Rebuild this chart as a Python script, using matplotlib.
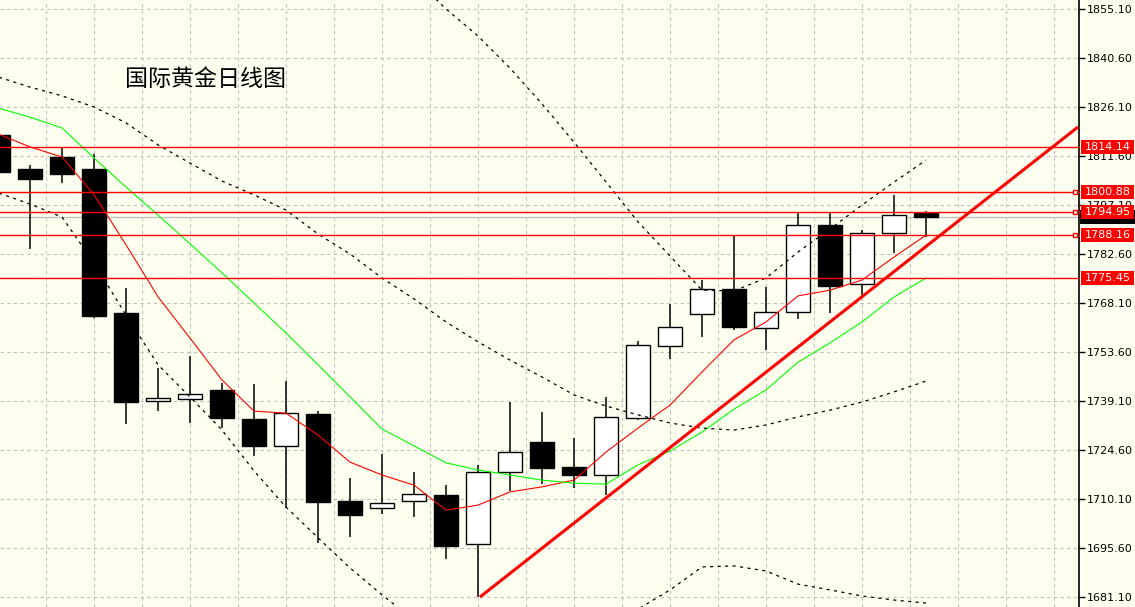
import matplotlib.pyplot as plt
from matplotlib.patches import Rectangle

plt.rcParams['font.family'] = ['Noto Sans CJK SC', 'DejaVu Sans']

# daily candles (oldest first)
opens = [1817.8, 1807.8, 1811.4, 1807.8, 1765.2, 1739.2, 1739.8, 1742.4, 1733.7, 1725.7,
         1735.3, 1709.5, 1707.3, 1709.4, 1711.3, 1696.7, 1718.0, 1727.0, 1719.6, 1717.1,
         1734.1, 1755.5, 1764.8, 1772.2, 1760.6, 1765.3, 1791.1, 1773.6, 1788.7, 1794.7]
highs = [1820.0, 1808.9, 1814.1, 1812.1, 1772.4, 1749.0, 1752.4, 1744.3, 1744.1, 1745.1,
         1736.1, 1716.3, 1723.4, 1718.1, 1714.2, 1720.1, 1738.9, 1735.8, 1728.1, 1740.4,
         1756.9, 1767.9, 1774.9, 1788.0, 1772.9, 1794.8, 1794.8, 1789.7, 1800.1, 1795.4]
lows = [1805.0, 1784.2, 1803.7, 1763.7, 1732.2, 1736.2, 1732.5, 1731.1, 1722.9, 1707.3,
        1697.2, 1698.9, 1705.7, 1704.9, 1692.3, 1681.1, 1712.6, 1714.6, 1713.3, 1711.3,
        1733.5, 1751.6, 1758.1, 1760.2, 1754.2, 1763.3, 1765.1, 1770.5, 1783.0, 1787.7]
closes = [1806.9, 1804.8, 1806.3, 1764.3, 1738.9, 1739.9, 1741.1, 1734.0, 1725.9, 1735.5,
          1709.3, 1705.5, 1708.8, 1711.5, 1696.3, 1718.0, 1724.0, 1719.4, 1717.1, 1734.4,
          1755.6, 1761.0, 1772.2, 1761.1, 1765.3, 1791.2, 1773.2, 1788.7, 1794.0, 1793.6]

# indicator lines
ma_fast = [1818.1, 1814.3, 1811.3, 1800.1, 1785.3, 1769.9, 1757.7, 1745.3, 1736.1, 1735.5,
           1729.0, 1721.0, 1717.2, 1714.2, 1706.8, 1708.3, 1712.2, 1713.7, 1715.7, 1724.0,
           1731.1, 1737.9, 1747.7, 1757.2, 1762.5, 1770.2, 1771.9, 1774.9, 1781.7, 1788.2]
ma_slow = [1825.8, 1823.1, 1819.9, 1811.0, 1802.4, 1794.1, 1785.6, 1777.0, 1768.1, 1759.2,
           1749.8, 1740.3, 1730.8, 1725.8, 1720.8, 1718.7, 1717.2, 1715.7, 1714.8, 1714.5,
           1720.2, 1724.3, 1729.9, 1736.7, 1742.4, 1750.6, 1756.3, 1762.5, 1769.9, 1775.5]
bb_mid = [1835.0, 1832.0, 1829.4, 1826.1, 1821.4, 1814.9, 1809.5, 1804.2, 1800.1, 1795.6,
          1788.5, 1782.6, 1775.5, 1769.3, 1762.5, 1756.6, 1751.2, 1746.2, 1740.9, 1737.6,
          1735.0, 1732.6, 1731.1, 1730.5, 1732.0, 1734.4, 1736.4, 1738.8, 1741.8, 1745.0]
bb_upper = [1869.3, 1866.6, 1865.3, 1872.3, 1878.3, 1880.0, 1878.7, 1877.9, 1881.8, 1883.5,
            1878.4, 1875.5, 1869.3, 1864.3, 1855.1, 1847.1, 1837.6, 1827.0, 1815.7, 1803.9,
            1792.1, 1782.0, 1771.9, 1771.7, 1775.5, 1783.2, 1790.0, 1797.1, 1803.9, 1810.4]
bb_lower = [1800.7, 1797.4, 1793.5, 1779.9, 1764.5, 1749.8, 1740.3, 1730.5, 1718.4, 1707.7,
            1698.6, 1689.7, 1681.7, 1674.3, 1669.6, 1666.0, 1664.8, 1665.4, 1668.4, 1671.9,
            1677.5, 1683.2, 1690.0, 1690.3, 1688.8, 1684.9, 1683.2, 1681.4, 1680.2, 1679.3]

levels = [1814.14, 1800.88, 1794.95, 1788.16, 1775.45]
marked = [1800.88, 1794.95, 1788.16]
last_price = 1793.60
trend_x = [15.06, 33.75]
trend_p = [1681.1, 1820.2]
price_ticks = [1681.10, 1695.60, 1710.10, 1724.60, 1739.10, 1753.60, 1768.10,
               1782.60, 1797.10, 1811.60, 1826.10, 1840.60, 1855.10]
title = '国际黄金日线图'

W, H = 1135, 607
bg = '#FFFFF0'
fig = plt.figure(figsize=(W / 100, H / 100), dpi=100, facecolor=bg)
ax = fig.add_axes([0, 0, 1079 / W, 1])
ax.set_facecolor(bg)
ax.set_xlim(0.06, 33.78)
ax.set_ylim(1678.14, 1857.77)

# grid
for p in price_ticks:
    ax.axhline(p, color='#C0C0C0', lw=0.8, ls=(0, (3, 3)), zorder=0)
for i in range(1, 23):
    ax.axvline(1.5 * i, color='#C0C0C0', lw=0.8, ls=(0, (3, 3)), zorder=0)

xs = list(range(len(opens)))
ax.vlines(xs, lows, highs, color='black', lw=1.1, zorder=2)
for x, o, c in zip(xs, opens, closes):
    up = c >= o
    ax.bar(x, abs(c - o), bottom=min(o, c), width=0.76,
           color='white' if up else 'black', edgecolor='black', lw=1.0, zorder=3)

ax.plot(xs, ma_fast, color='#FF0000', lw=0.8, zorder=4)
ax.plot(xs, ma_slow, color='#00FF00', lw=0.8, zorder=4)
for band in (bb_mid, bb_upper, bb_lower):
    ax.plot(xs, band, color='black', lw=0.9, ls=(0, (2.5, 3.5)), zorder=4)

ax.axhline(last_price, color='#C0C0C0', lw=1.0, zorder=1)
for p in levels:
    ax.axhline(p, color='#FF0000', lw=1.0, zorder=5)
ax.plot(trend_x, trend_p, color='#FF0000', lw=2.2, zorder=6, solid_capstyle='butt')

# right price scale
for s in ['top', 'left', 'bottom']:
    ax.spines[s].set_visible(False)
ax.spines['right'].set_color('black')
ax.spines['right'].set_linewidth(1.2)
ax.set_xticks([])
ax.yaxis.tick_right()
ax.set_yticks(price_ticks)
ax.set_yticklabels(['%.2f' % p for p in price_ticks], fontsize=8, family='DejaVu Sans')
ax.tick_params(axis='y', length=4, width=1, pad=1.5, colors='black')

fig.canvas.draw()


def ypix(p):
    return ax.transData.transform((0, p))[1]


# current price box (mostly hidden)
yp = ypix(last_price)
fig.patches.append(Rectangle((1080 / W, (yp - 7) / H), 55 / W, 14 / H,
                             transform=fig.transFigure, fc='black', ec='none', zorder=5))
for p in levels:
    yp = ypix(p)
    fig.patches.append(Rectangle((1081 / W, (yp - 7) / H), 53 / W, 14 / H,
                                 transform=fig.transFigure, fc='#FF0000', ec='none', zorder=6))
    fig.text(1107.5 / W, yp / H, '%.2f' % p, color='white', fontsize=8, family='DejaVu Sans',
             ha='center', va='center', zorder=7)
for p in marked:
    ax.plot([33.66], [p], marker='s', ms=3.2, mfc='white', mec='#FF0000', mew=1,
            clip_on=False, zorder=7)

fig.text(125 / W, 1 - 79 / H, title, fontsize=16.6, ha='left', va='center', color='black')

fig.savefig('out.png', dpi=100, facecolor=bg)
